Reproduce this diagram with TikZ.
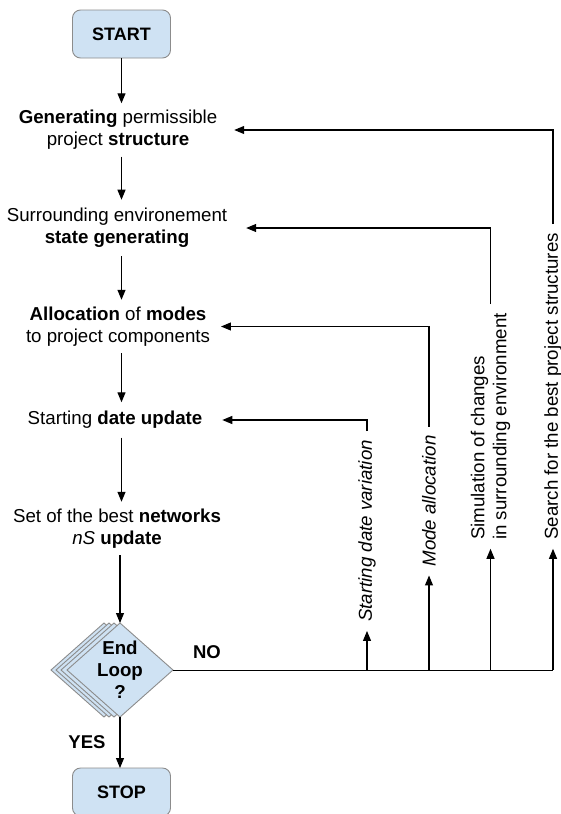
\documentclass[tikz,border=0pt]{standalone}
\usepackage{fontspec}
\setmainfont{Liberation Sans}
\usetikzlibrary{arrows.meta,shapes.geometric,shadows}
\definecolor{boxfill}{HTML}{CFE2F3}
\definecolor{boxline}{HTML}{8C8C8C}
\begin{document}
\begin{tikzpicture}[x=1pt,y=-1pt,
  every node/.style={font=\fontsize{18.7}{22}\selectfont, outer sep=0pt},
  arr/.style={draw=black, line width=1.1pt, -{Triangle[length=10pt,width=8pt]}},
  fb/.style={draw=black, line width=1pt},
  term/.style={draw=boxline, fill=boxfill, rounded corners=8pt, minimum width=98pt,
    minimum height=48pt, line width=0.9pt, font=\fontsize{18}{22}\selectfont\bfseries},
  txt/.style={align=center, inner ysep=7pt},
  vlab/.style={rotate=90, inner xsep=9pt, inner ysep=2pt},
  dshadow/.style={copy shadow={shadow xshift=#1, shadow yshift=0pt, fill=boxfill, draw=boxline, line width=0.9pt}},
  decision/.style={diamond, draw=boxline, fill=boxfill, line width=0.9pt, shape aspect=1.128,
    inner sep=-1.5pt, minimum width=106pt, minimum height=94pt, align=center,
    font=\fontsize{18.7}{22}\selectfont\bfseries,
    dshadow=-16pt, dshadow=-11pt, dshadow=-6pt},
  lbl/.style={font=\fontsize{18.5}{22}\selectfont\bfseries}
]
\useasboundingbox (0,0) rectangle (561,814);

\node[term] (start) at (121.5,34) {START};
\node[txt, inner xsep=17pt] (gen) at (118,130) {\textbf{Generating} permissible\\project \textbf{structure}};
\node[txt, inner xsep=19pt, inner ysep=8.5pt] (surr) at (117,228) {Surrounding environement\\\textbf{state generating}};
\node[txt, inner xsep=11pt] (alloc) at (118,326.5) {\textbf{Allocation} of \textbf{modes}\\to project components};
\node[txt, inner xsep=20pt, inner ysep=9pt] (date) at (115,420) {Starting \textbf{date update}};
\node[txt] (set) at (117,528.5) {Set of the best \textbf{networks}\\\textit{nS} \textbf{update}};
\node[decision] (loop) at (120,670) {End\\Loop\\?};
\node[term] (stop) at (121.5,792) {STOP};

\node[lbl] (no) at (207,652) {NO};
\node[lbl] (yes) at (87,742) {YES};

\node[vlab] (l1) at (367,531) {\itshape Starting date variation};
\node[vlab] (l2) at (429,501) {\itshape Mode allocation};
\node[vlab, align=left] (l3) at (490.5,426.5) {Simulation of changes\\in surrounding environment};
\node[vlab] (l4) at (553,386.5) {Search for the best project structures};

\draw[arr] (start.south) -- (gen.north -| start.south);
\draw[arr] (gen.south -| start.south) -- (surr.north -| start.south);
\draw[arr] (surr.south -| start.south) -- (alloc.north -| start.south);
\draw[arr] (alloc.south -| start.south) -- (date.north -| start.south);
\draw[arr] (date.south -| start.south) -- (set.north -| start.south);
\draw[arr] (set.south -| loop.north) -- (loop.north);
\draw[arr] (loop.south) -- (stop.north -| loop.south);

\draw[fb] (loop.east) -- (l4 |- loop.east);
\draw[arr] (l1 |- loop.east) -- (l1.west);
\draw[arr] (l2 |- loop.east) -- (l2.west);
\draw[arr] (l3 |- loop.east) -- (l3.west);
\draw[arr] (l4 |- loop.east) -- (l4.west);

\draw[arr] (l1.east) |- (date.east);
\draw[arr] (l2.east) |- (alloc.east);
\draw[arr] (l3.east) |- (surr.east);
\draw[arr] (l4.east) |- (gen.east);
\end{tikzpicture}
\end{document}
